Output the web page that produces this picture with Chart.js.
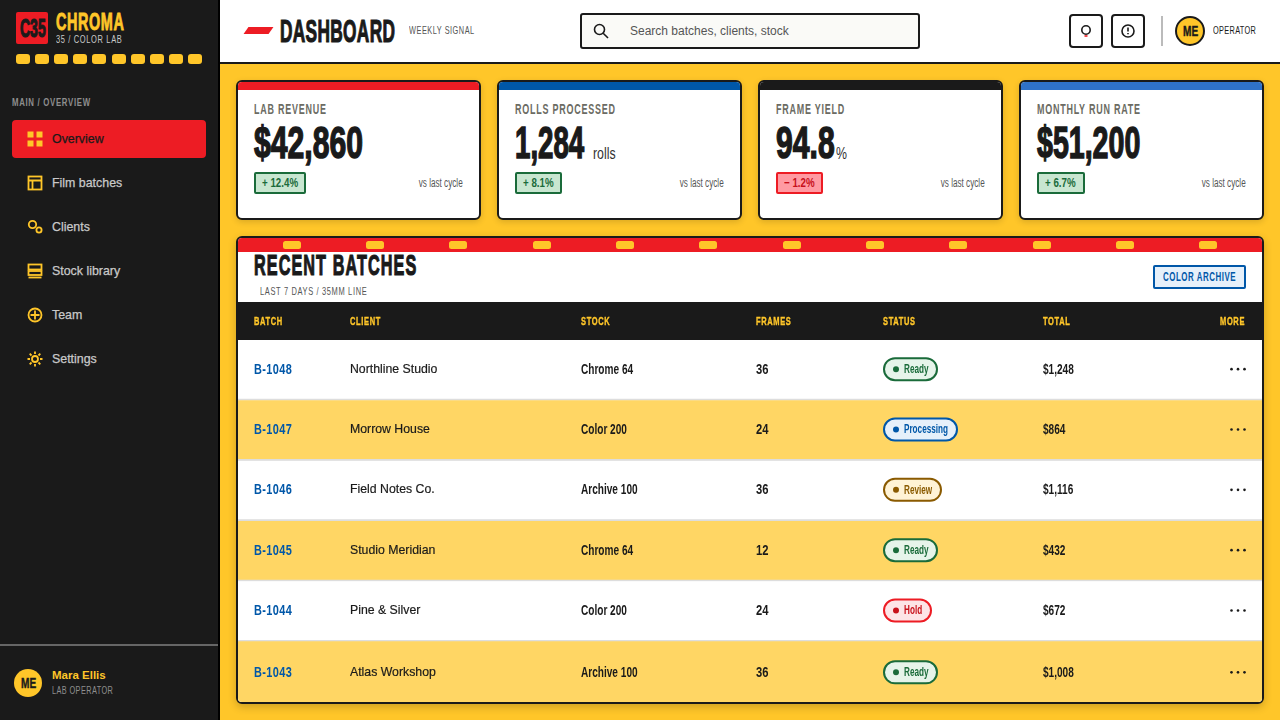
<!DOCTYPE html>
<html>
<head>
<meta charset="utf-8">
<title>Chroma dashboard</title>
<script src="https://cdn.jsdelivr.net/npm/chart.js@4"></script>
<style>
* { box-sizing: border-box; margin: 0; padding: 0; }
body { width: 1280px; height: 720px; overflow: hidden; background: #ffc629; font-family: "Liberation Sans", sans-serif; position: relative; color: #1a1a1a; }
.abs { position: absolute; white-space: nowrap; }
.sq { transform-origin: left center; }
.heavy { font-weight: 700; -webkit-text-stroke: 1px currentColor; transform-origin: left center; }
#sidebar { position: absolute; left: 0; top: 0; width: 220px; height: 720px; background: #1a1a1a; border-right: 2px solid #000; }
#logo { left: 16px; top: 12px; width: 32px; height: 32px; background: #ed1c24; border-radius: 2px; }
#filmDots { position: absolute; left: 16px; top: 54px; width: 186px; display: flex; justify-content: space-between; }
#filmDots i { width: 14px; height: 10px; background: #ffc629; border-radius: 3px; }
.navRow { position: absolute; left: 12px; width: 194px; height: 38px; border-radius: 4px; color: #c9c9c9; font-size: 12.4px; line-height: 38px; padding-left: 40px; -webkit-text-stroke: .25px currentColor; }
.navRow svg { position: absolute; left: 15px; top: 11px; width: 16px; height: 16px; fill: none; stroke: #ffc629; stroke-width: 1.8; }
.navRow.active { background: #ed1c24; color: #1a1a1a; }
#topbar { position: absolute; left: 220px; top: 0; width: 1060px; height: 64px; background: #fff; border-bottom: 2px solid #1a1a1a; }
#search { left: 580px; top: 13px; width: 340px; height: 36px; border: 2px solid #1a1a1a; border-radius: 3px; background: #fafaf7; font-size: 12px; color: #555; line-height: 32px; padding-left: 48px; }
.iconBtn { position: absolute; top: 14px; width: 34px; height: 34px; border: 2px solid #1a1a1a; border-radius: 4px; background: #fff; }
.card { position: absolute; top: 80px; width: 245px; height: 140px; background: #fff; border: 2px solid #1a1a1a; border-radius: 6px; overflow: hidden; box-shadow: 0 2px 6px rgba(0,0,0,.15); }
.card .strip { height: 8px; }
.card .lbl { left: 16px; top: 19px; font-size: 14px; font-weight: 700; color: #6b6b63; letter-spacing: 1.2px; transform: scaleX(.64); }
.card .val { left: 16px; top: 35px; font-size: 45px; line-height: 52px; -webkit-text-stroke-width: 1.5px; }
.card .unit { font-size: 16px; color: #333; top: 63px; transform: scaleX(.77); }
.card .delta { left: 16px; top: 90px; height: 22px; border: 2px solid; border-radius: 2px; font-size: 13px; font-weight: 700; line-height: 18px; padding-left: 6px; }
.card .delta span { display: inline-block; transform: scaleX(.75); transform-origin: left center; }
.card .cmp { right: 16px; top: 94px; font-size: 12px; color: #555; transform: scaleX(.68); transform-origin: right center; }
#tableCard { position: absolute; left: 236px; top: 236px; width: 1028px; height: 468px; background: #fff; border: 2px solid #1a1a1a; border-radius: 6px; overflow: hidden; box-shadow: 0 3px 8px rgba(0,0,0,.2); }
#perf { position: absolute; left: 0; top: 0; width: 1024px; height: 14px; background: #ed1c24; padding: 3px 12px 0; display: flex; justify-content: space-around; }
#perf i { width: 18px; height: 8px; background: #ffc629; border-radius: 2.5px; }
#chartBox { position: absolute; left: 0; top: 64px; width: 1024px; height: 400px; background: linear-gradient(#1a1a1a 38px, #fff 38px); }
</style>
</head>
<body>
<div id="sidebar">
  <div id="logo" class="abs"><div class="abs heavy" style="left:4px;top:0;font-size:25px;line-height:32px;transform:scaleX(.56);-webkit-text-stroke-width:1.2px">C35</div></div>
  <div class="abs heavy" style="left:56px;top:9px;font-size:24px;color:#ffc629;letter-spacing:1px;line-height:26px;transform:scaleX(.6);-webkit-text-stroke-width:.9px">CHROMA</div>
  <div class="abs sq" style="left:56px;top:33px;font-size:11.5px;color:#c9c9c9;letter-spacing:1px;transform:scaleX(.65)">35 / COLOR LAB</div>
  <div id="filmDots"></div>
  <div class="abs sq" style="left:12px;top:96px;font-size:11.5px;font-weight:700;color:#8e8e8e;letter-spacing:1px;transform:scaleX(.68)">MAIN / OVERVIEW</div>
  <div id="nav"></div>
  <div class="abs" style="left:0;top:644px;width:218px;height:2px;background:#666"></div>
  <div class="abs" style="left:14px;top:669px;width:28px;height:28px;border-radius:50%;background:#ffc629"><div class="abs heavy" style="left:7px;top:0;line-height:28px;font-size:14px;transform:scaleX(.72);-webkit-text-stroke-width:.4px">ME</div></div>
  <div class="abs" style="left:52px;top:669px;font-size:11.5px;font-weight:700;color:#ffc629">Mara Ellis</div>
  <div class="abs sq" style="left:52px;top:684px;font-size:11.5px;color:#8e8e8e;letter-spacing:.6px;transform:scaleX(.64)">LAB OPERATOR</div>
</div>

<div id="topbar"></div>
<div class="abs" style="left:245.5px;top:27px;width:25px;height:7px;background:#ed1c24;transform:skewX(-35deg)"></div>
<div class="abs heavy" style="left:280px;top:15px;font-size:32px;line-height:32px;letter-spacing:.6px;transform:scaleX(.54);-webkit-text-stroke-width:1.2px">DASHBOARD</div>
<div class="abs sq" style="left:409px;top:24px;font-size:11.5px;color:#555;letter-spacing:.8px;transform:scaleX(.64)">WEEKLY SIGNAL</div>
<div id="search" class="abs">Search batches, clients, stock</div>
<svg class="abs" style="left:593px;top:23px" width="16" height="16" viewBox="0 0 16 16" fill="none" stroke="#1a1a1a" stroke-width="1.6"><circle cx="6.5" cy="6.5" r="5"/><path d="M10.2 10.2 15 15"/></svg>
<div class="iconBtn" style="left:1069px"><svg width="30" height="30" fill="none" stroke="#1a1a1a" stroke-width="1.6"><circle cx="15" cy="14" r="4.2"/><path d="M13.5 20h3" stroke="#ed1c24"/></svg></div>
<div class="iconBtn" style="left:1111px"><svg width="30" height="30" fill="none" stroke="#1a1a1a" stroke-width="1.6"><circle cx="15" cy="15" r="6"/><path d="M15 11.5v4M15 17v1.3"/></svg></div>
<div class="abs" style="left:1161px;top:16px;width:2px;height:30px;background:#bbb"></div>
<div class="abs" style="left:1175px;top:16px;width:30px;height:30px;border:2px solid #1a1a1a;border-radius:50%;background:#ffc629"><div class="abs heavy" style="left:6px;top:0;line-height:26px;font-size:14px;transform:scaleX(.72);-webkit-text-stroke-width:.4px">ME</div></div>
<div class="abs sq" style="left:1213px;top:24px;font-size:11.5px;letter-spacing:.5px;transform:scaleX(.64)">OPERATOR</div>

<div id="cards"></div>

<div id="tableCard">
  <div id="perf"></div>
  <div class="abs heavy" style="left:16px;top:11px;font-size:30px;line-height:32px;letter-spacing:2px;transform:scaleX(.54);-webkit-text-stroke-width:1.2px">RECENT BATCHES</div>
  <div class="abs sq" style="left:22px;top:47px;font-size:11.5px;color:#555;letter-spacing:1px;transform:scaleX(.65)">LAST 7 DAYS / 35MM LINE</div>
  <div class="abs" style="left:915px;top:27px;width:93px;height:24px;border:2px solid #0057a8;border-radius:2px;background:#e6f0fa"><div class="abs sq" style="left:8px;top:0;color:#0057a8;font-size:12px;font-weight:700;letter-spacing:.8px;line-height:20px;transform:scaleX(.66)">COLOR ARCHIVE</div></div>
  <div id="chartBox"><canvas id="batchTable"></canvas></div>
</div>

<script>
// table data
const columnHeads = ["BATCH", "CLIENT", "STOCK", "FRAMES", "STATUS", "TOTAL", "MORE"];
const batchIds = ["B-1048", "B-1047", "B-1046", "B-1045", "B-1044", "B-1043"];
const clients = ["Northline Studio", "Morrow House", "Field Notes Co.", "Studio Meridian", "Pine & Silver", "Atlas Workshop"];
const stocks = ["Chrome 64", "Color 200", "Archive 100", "Chrome 64", "Color 200", "Archive 100"];
const frames = [36, 24, 36, 12, 24, 36];
const statuses = ["Ready", "Processing", "Review", "Ready", "Hold", "Ready"];
const totals = ["$1,248", "$864", "$1,116", "$432", "$672", "$1,008"];

// stat cards
const kpiLabels = ["LAB REVENUE", "ROLLS PROCESSED", "FRAME YIELD", "MONTHLY RUN RATE"];
const kpiValues = ["$42,860", "1,284", "94.8", "$51,200"];
const kpiUnits = ["", "rolls", "%", ""];
const kpiDeltas = ["+ 12.4%", "+ 8.1%", "− 1.2%", "+ 6.7%"];

const navLabels = ["Overview", "Film batches", "Clients", "Stock library", "Team", "Settings"];

// layout + colours, kept apart from the data
const columnX = [16, 112, 343, 518, 645, 805, 982];
const moreX = 992;
const tableWidth = 1024;
const kpiStrip = ["#ed1c24", "#0057a8", "#1a1a1a", "#2f72c9"];
const kpiDeltaW = [52, 47, 47, 48];
const kpiValueScale = [0.67, 0.615, 0.67, 0.635];
const statusStyle = {
    Ready: { text: "#1a6b3a", fill: "#e6f4ea", line: "#1a6b3a", w: 55 },
    Processing: { text: "#0057a8", fill: "#e6f0fa", line: "#0057a8", w: 75 },
    Review: { text: "#8a5a00", fill: "#fff3d6", line: "#8a5a00", w: 59 },
    Hold: { text: "#c8101a", fill: "#fde4e6", line: "#ed1c24", w: 49 }
};
const navIcons = [
    '<g fill="#ffc629" stroke="none"><rect x="0.5" y="0.5" width="6" height="6"/><rect x="9.5" y="0.5" width="6" height="6"/><rect x="0.5" y="9.5" width="6" height="6"/><rect x="9.5" y="9.5" width="6" height="6"/></g>',
    '<rect x="1.5" y="1.5" width="13" height="13"/><path d="M1.5 5.5h13M5.5 5.5v9"/>',
    '<circle cx="5.5" cy="5.5" r="3.7"/><circle cx="12" cy="11" r="2.6"/>',
    '<rect x="1.5" y="1.5" width="13" height="5"/><rect x="1.5" y="8" width="13" height="4"/><path d="M1.5 14.5h13"/>',
    '<circle cx="8" cy="8" r="6.5"/><path d="M8 3.5v9M3.5 8h9"/>',
    '<circle cx="8" cy="8" r="3"/><path d="M8 .5v2.5M8 13v2.5M.5 8H3M13 8h2.5M2.7 2.7l1.8 1.8M11.5 11.5l1.8 1.8M2.7 13.3l1.8-1.8M11.5 4.5l1.8-1.8"/>'
];

document.getElementById("filmDots").innerHTML = "<i></i>".repeat(10);
document.getElementById("perf").innerHTML = "<i></i>".repeat(12);

document.getElementById("nav").innerHTML = navLabels.map((label, i) =>
    `<div class="navRow${i === 0 ? " active" : ""}" style="top:${120 + i * 44}px"><svg viewBox="0 0 16 16">${navIcons[i]}</svg>${label}</div>`
).join("");

document.getElementById("cards").innerHTML = kpiLabels.map((label, i) => {
    const good = kpiDeltas[i][0] === "+";
    const deltaStyle = good ? "background:#c8e6d0;border-color:#1a6b3a;color:#1a6b3a" : "background:#ff9aa2;border-color:#ed1c24;color:#c8101a";
    const unitLeft = i === 1 ? 94 : 76;
    return `<div class="card" style="left:${236 + i * 261}px">
        <div class="strip" style="background:${kpiStrip[i]}"></div>
        <div class="abs sq lbl">${label}</div>
        <div class="abs heavy val" style="transform:scaleX(${kpiValueScale[i]})">${kpiValues[i]}</div>
        ${kpiUnits[i] ? `<div class="abs sq unit" style="left:${unitLeft}px">${kpiUnits[i]}</div>` : ""}
        <div class="abs delta" style="width:${kpiDeltaW[i]}px;${deltaStyle}"><span>${kpiDeltas[i]}</span></div>
        <div class="abs cmp">vs last cycle</div>
    </div>`;
}).join("");

const SANS = '"Liberation Sans", sans-serif';

// fillText squeezed sideways, the condensed look of the table type
function squeezed(ctx, text, x, y, sx, stroke) {
    ctx.save();
    ctx.translate(x, y);
    ctx.scale(sx, 1);
    if (stroke) {
        ctx.lineWidth = stroke;
        ctx.strokeStyle = ctx.fillStyle;
        ctx.strokeText(text, 0, 0);
    }
    ctx.fillText(text, 0, 0);
    ctx.restore();
}

// draws header labels and cell text on top of the row bands, placed through the chart's scales
const tableCells = {
    id: "tableCells",
    afterDatasetsDraw(chart) {
        const ctx = chart.ctx;
        const x = chart.scales.x;
        const y = chart.scales.y;
        ctx.save();
        ctx.textBaseline = "middle";
        ctx.textAlign = "left";

        ctx.letterSpacing = "1px";
        ctx.fillStyle = "#ffc629";
        ctx.font = "700 11.5px " + SANS;
        columnHeads.forEach((head, i) => {
            squeezed(ctx, head, x.getPixelForTick(i), y.top / 2 + 1, 0.65, 0.4);
        });

        batchIds.forEach((id, row) => {
            // the grey rule eats into every row but the last
            const cy = y.getPixelForValue(row) + (row === batchIds.length - 1 ? 0.5 : -1);

            ctx.letterSpacing = "0.5px";
            ctx.fillStyle = "#0057a8";
            ctx.font = "700 14px " + SANS;
            squeezed(ctx, id, x.getPixelForValue(columnX[0]), cy + 0.5, 0.78);

            ctx.letterSpacing = "0px";
            ctx.fillStyle = "#1a1a1a";
            ctx.font = "13px " + SANS;
            squeezed(ctx, clients[row], x.getPixelForValue(columnX[1]), cy, 0.945, 0.2);

            ctx.font = "700 14px " + SANS;
            squeezed(ctx, stocks[row], x.getPixelForValue(columnX[2]), cy + 0.5, 0.72);
            squeezed(ctx, String(frames[row]), x.getPixelForValue(columnX[3]), cy + 0.5, 0.8);
            squeezed(ctx, totals[row], x.getPixelForValue(columnX[5]), cy + 0.5, 0.72);

            // status pill
            const st = statusStyle[statuses[row]];
            const px = x.getPixelForValue(columnX[4]);
            ctx.beginPath();
            ctx.roundRect(px + 1, cy - 11, st.w - 2, 22, 11);
            ctx.fillStyle = st.fill;
            ctx.fill();
            ctx.lineWidth = 2;
            ctx.strokeStyle = st.line;
            ctx.stroke();
            ctx.beginPath();
            ctx.arc(px + 13, cy, 3, 0, Math.PI * 2);
            ctx.fillStyle = st.text;
            ctx.fill();
            ctx.font = "700 12px " + SANS;
            squeezed(ctx, statuses[row], px + 21, cy + 0.5, 0.68);

            // more menu
            ctx.fillStyle = "#1a1a1a";
            [0, 6.5, 13].forEach(dx => {
                ctx.beginPath();
                ctx.arc(x.getPixelForValue(moreX) + dx + 1.5, cy, 1.3, 0, Math.PI * 2);
                ctx.fill();
            });
        });
        ctx.restore();
    }
};

new Chart(document.getElementById("batchTable"), {
    type: "bar",
    plugins: [tableCells],
    data: {
        labels: batchIds,
        datasets: [{
            data: batchIds.map(() => tableWidth),
            backgroundColor: ctx => ctx.dataIndex % 2 ? "#ffd664" : "#ffffff",
            borderColor: "#dddddd",
            borderWidth: ctx => ({ top: 0, left: 0, right: 0, bottom: ctx.dataIndex === batchIds.length - 1 ? 0 : 2 }),
            borderSkipped: false,
            barPercentage: 1,
            categoryPercentage: 1
        }]
    },
    options: {
        indexAxis: "y",
        responsive: true,
        maintainAspectRatio: false,
        animation: false,
        layout: { padding: 0 },
        plugins: { legend: { display: false }, tooltip: { enabled: false } },
        scales: {
            y: { display: false },
            x: {
                position: "top",
                min: 0,
                max: tableWidth,
                grid: { display: false, drawTicks: false },
                border: { display: false },
                afterBuildTicks: axis => { axis.ticks = columnX.map(v => ({ value: v })); },
                afterFit: axis => { axis.height = 38; },
                ticks: { display: false, autoSkip: false, maxRotation: 0 }
            }
        }
    }
});
</script>
</body>
</html>
